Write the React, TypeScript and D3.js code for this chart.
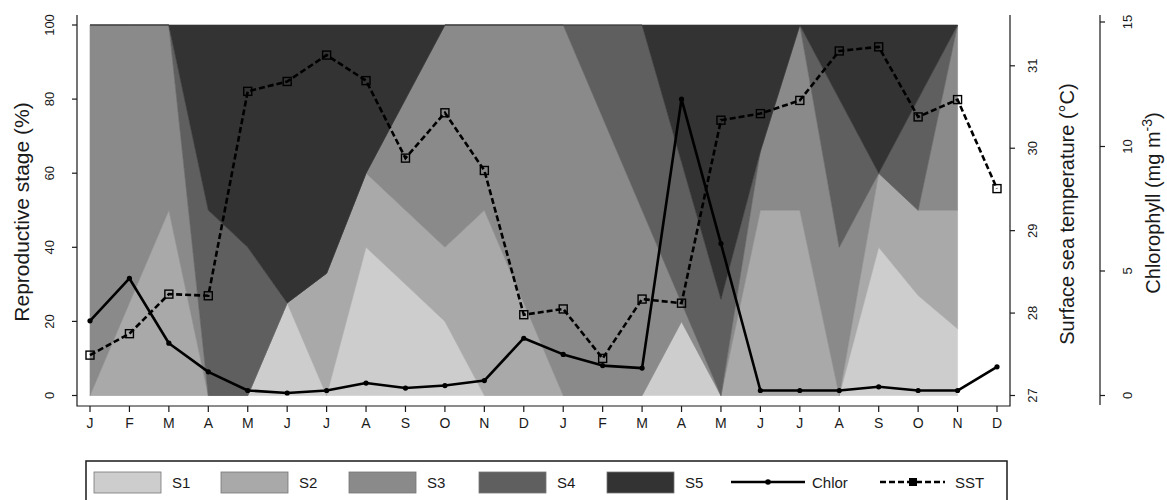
import React from 'react';
import * as d3 from 'd3';

// months on the x axis (two years)
const MONTHS = ['J', 'F', 'M', 'A', 'M', 'J', 'J', 'A', 'S', 'O', 'N', 'D',
  'J', 'F', 'M', 'A', 'M', 'J', 'J', 'A', 'S', 'O', 'N', 'D'];

// reproductive stages (%), J of year 1 to N of year 2
const STAGE_KEYS = ['S1', 'S2', 'S3', 'S4', 'S5'];
const S1 = [0, 0, 0, 0, 0, 25, 0, 40, 30, 20, 0, 0, 0, 0, 0, 20, 0, 0, 0, 0, 40, 27, 18];
const S2 = [0, 25, 50, 0, 0, 0, 33, 20, 20, 20, 50, 25, 0, 0, 0, 0, 0, 50, 50, 0, 20, 23, 32];
const S3 = [100, 75, 50, 0, 0, 0, 0, 0, 30, 60, 50, 75, 100, 75, 50, 5, 0, 16, 50, 40, 0, 0, 50];
const S4 = [0, 0, 0, 50, 40, 0, 0, 0, 0, 0, 0, 0, 0, 25, 50, 38, 26, 0, 0, 40, 0, 30, 0];
const S5 = [0, 0, 0, 50, 60, 75, 67, 40, 20, 0, 0, 0, 0, 0, 0, 37, 74, 34, 0, 20, 40, 20, 0];

// chlorophyll (mg m-3) and surface sea temperature (°C)
const CHLOR = [3.0, 4.7, 2.1, 0.95, 0.2, 0.1, 0.2, 0.5, 0.3, 0.4, 0.6, 2.3,
  1.65, 1.2, 1.1, 11.9, 6.1, 0.2, 0.2, 0.2, 0.35, 0.2, 0.2, 1.15];
const SST = [27.49, 27.75, 28.23, 28.21, 30.69, 30.81, 31.13, 30.82, 29.88, 30.43, 29.73, 27.98,
  28.05, 27.45, 28.17, 28.12, 30.34, 30.42, 30.58, 31.18, 31.23, 30.38, 30.59, 29.51];

const STAGE_TICKS = [0, 20, 40, 60, 80, 100];
const SST_TICKS = [27, 28, 29, 30, 31];
const CHLOR_TICKS = [0, 5, 10, 15];

const FILLS = ['#cdcdcd', '#a9a9a9', '#8a8a8a', '#5f5f5f', '#333333'];
const FONT = '"Liberation Sans", Arial, sans-serif';
const INK = '#1a1a1a';

const W = 1167;
const H = 500;
const AX_L = 77;      // left axis
const AX_R = 1010;    // sst axis
const AX_C = 1100;    // chlorophyll axis
const AX_B = 406;     // bottom axis
const AX_T = 15;

const x = d3.scaleLinear().domain([0, MONTHS.length - 1]).range([90, 997]);
const yStage = d3.scaleLinear().domain([0, 100]).range([395.5, 25]);
const ySst = d3.scaleLinear().domain([27, 31]).range([395.5, 65.8]);
const yChl = d3.scaleLinear().domain([0, 15]).range([395.5, 22]);

function VText({ x, y, size, children }: { x: number; y: number; size: number; children: React.ReactNode }) {
  return (
    <text transform={`translate(${x},${y}) rotate(-90)`} textAnchor="middle" dominantBaseline="central"
      fontSize={size} fontFamily={FONT} fill={INK}>
      {children}
    </text>
  );
}

export default function App() {
  const rows = S1.map((_, i) => ({ i, S1: S1[i], S2: S2[i], S3: S3[i], S4: S4[i], S5: S5[i] }));
  const series = d3.stack<any>().keys(STAGE_KEYS)(rows);
  const area = d3.area<any>()
    .x(d => x(d.data.i))
    .y0(d => yStage(d[0]))
    .y1(d => yStage(d[1]));

  const chlLine = d3.line<number>().x((_, i) => x(i)).y(d => yChl(d));
  const sstLine = d3.line<number>().x((_, i) => x(i)).y(d => ySst(d));

  const legendY = 482;
  const swatchX = [94, 221, 349, 479, 607];

  return (
    <svg width={W} height={H} style={{ position: 'absolute', left: 0, top: 0, background: '#fff' }}>
      {/* stacked stages */}
      {series.map((s, k) => (
        <path key={s.key} d={area(s) || ''} fill={FILLS[k]} stroke={FILLS[k]} strokeWidth={0.6} />
      ))}

      {/* chlorophyll */}
      <path d={chlLine(CHLOR) || ''} fill="none" stroke="#000" strokeWidth={2.6} strokeLinejoin="round" />
      {CHLOR.map((v, i) => (
        <circle key={`c${i}`} cx={x(i)} cy={yChl(v)} r={2.6} fill="#000" />
      ))}

      {/* sea surface temperature */}
      <path d={sstLine(SST) || ''} fill="none" stroke="#000" strokeWidth={2.6} strokeDasharray="6,3" />
      {SST.map((v, i) => (
        <rect key={`s${i}`} x={x(i) - 4} y={ySst(v) - 4} width={8} height={8} fill="none" stroke="#000" strokeWidth={1.4} />
      ))}

      {/* frame */}
      <path d={`M${AX_L},${AX_T}V${AX_B}H${AX_R}V${AX_T}`} fill="none" stroke={INK} strokeWidth={1.2} />
      <line x1={AX_C} x2={AX_C} y1={AX_T} y2={AX_B - 1} stroke={INK} strokeWidth={1.2} />

      {/* left axis */}
      {STAGE_TICKS.map(t => (
        <g key={`l${t}`}>
          <line x1={AX_L - 5} x2={AX_L} y1={yStage(t)} y2={yStage(t)} stroke={INK} strokeWidth={1.2} />
          <VText x={49} y={yStage(t)} size={13}>{t}</VText>
        </g>
      ))}
      <VText x={21} y={212} size={21}>Reproductive stage (%)</VText>

      {/* bottom axis */}
      {MONTHS.map((m, i) => (
        <g key={`b${i}`}>
          <line x1={x(i)} x2={x(i)} y1={AX_B} y2={AX_B + 6} stroke={INK} strokeWidth={1.2} />
          <text x={x(i)} y={423} textAnchor="middle" dominantBaseline="central" fontSize={14}
            fontFamily={FONT} fill={INK}>{m}</text>
        </g>
      ))}

      {/* SST axis */}
      {SST_TICKS.map(t => (
        <g key={`r${t}`}>
          <line x1={AX_R} x2={AX_R + 5} y1={ySst(t)} y2={ySst(t)} stroke={INK} strokeWidth={1.2} />
          <VText x={1032} y={ySst(t)} size={13}>{t}</VText>
        </g>
      ))}
      <VText x={1067} y={214} size={20}>Surface sea temperature (°C)</VText>

      {/* chlorophyll axis */}
      {CHLOR_TICKS.map(t => (
        <g key={`c${t}`}>
          <line x1={AX_C} x2={AX_C + 5} y1={yChl(t)} y2={yChl(t)} stroke={INK} strokeWidth={1.2} />
          <VText x={1127} y={yChl(t)} size={13}>{t}</VText>
        </g>
      ))}
      <VText x={1153} y={203} size={20}>
        Chlorophyll (mg m<tspan dy={-6} fontSize={14}>-3</tspan><tspan dy={6}>)</tspan>
      </VText>

      {/* legend */}
      <rect x={86} y={461} width={921} height={60} fill="none" stroke={INK} strokeWidth={1.5} />
      {STAGE_KEYS.map((k, i) => (
        <g key={`lg${k}`}>
          <rect x={swatchX[i]} y={472} width={67} height={21} fill={FILLS[i]} stroke="#777" strokeWidth={0.8} />
          <text x={swatchX[i] + 78} y={legendY} dominantBaseline="central" fontSize={15}
            fontFamily={FONT} fill={INK}>{k}</text>
        </g>
      ))}
      <line x1={731} x2={805} y1={legendY} y2={legendY} stroke="#000" strokeWidth={2.6} />
      <circle cx={768} cy={legendY} r={2.8} fill="#000" />
      <text x={812} y={legendY} dominantBaseline="central" fontSize={15} fontFamily={FONT} fill={INK}>Chlor</text>
      <line x1={880} x2={945} y1={legendY} y2={legendY} stroke="#000" strokeWidth={2.6} strokeDasharray="6,3" />
      <rect x={909} y={legendY - 4} width={8} height={8} fill="#000" />
      <text x={955} y={legendY} dominantBaseline="central" fontSize={15} fontFamily={FONT} fill={INK}>SST</text>
    </svg>
  );
}
